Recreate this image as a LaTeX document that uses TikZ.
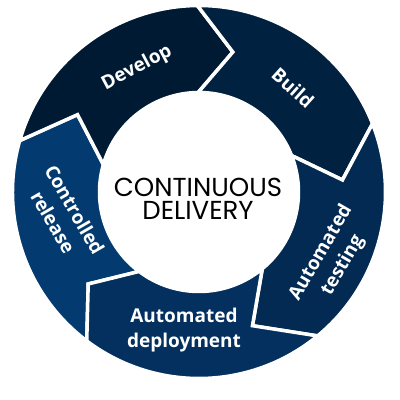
\documentclass[tikz,border=0pt]{standalone}
\usepackage{fontspec}
\newfontfamily\labfont{Open Sans}
\newfontfamily\cenfont{Poppins}
\definecolor{cDev}{HTML}{011A33}
\definecolor{cBld}{HTML}{012140}
\definecolor{cTst}{HTML}{022A52}
\definecolor{cDep}{HTML}{03305F}
\definecolor{cRel}{HTML}{033B70}
\tikzset{
  lab/.style={text=white, align=center, inner sep=0pt, font=\labfont\bfseries\fontsize{19}{25}\selectfont},
  cen/.style={text=black, align=center, inner sep=0pt, font=\cenfont\fontsize{26}{23}\selectfont},
  ringpart/.style={draw=white, line width=3.5pt, line join=miter}
}
\newcommand\ringseg[5]{%
  \fill[ringpart, fill=#1] (#2:186.5) arc[start angle=#2, end angle=#4, radius=186.5]
    -- (#5:144) -- (#4:99.5) arc[start angle=#4, end angle=#2, radius=99.5]
    -- (#3:144) -- cycle;}
\begin{document}
\begin{tikzpicture}[x=1pt,y=1pt]
\useasboundingbox[fill=white] (-199,-208) rectangle (201,192);
\ringseg{cRel}{233}{219.7}{164}{147.5}
\ringseg{cDev}{164}{147.5}{90.5}{76.4}
\ringseg{cBld}{90.5}{76.4}{21.5}{4.8}
\ringseg{cTst}{21.5}{4.8}{-50.5}{-68.2}
\ringseg{cDep}{-50.5}{-68.2}{-127}{-140.3}
\node[lab, rotate=28] (dev) at (-62,124) {Develop};
\node[lab, rotate=-42] (bld) at (94,104) {Build};
\node[lab, rotate=60] (tst) at (133,-67) {Automated\\testing};
\node[lab] (dep) at (-15,-138) {Automated\\deployment};
\node[lab, rotate=-60] (rel) at (-135,-24) {Controlled\\release};
\node[cen] (c) at (-1,-7) {CONTINUOUS\\DELIVERY};
\end{tikzpicture}
\end{document}
